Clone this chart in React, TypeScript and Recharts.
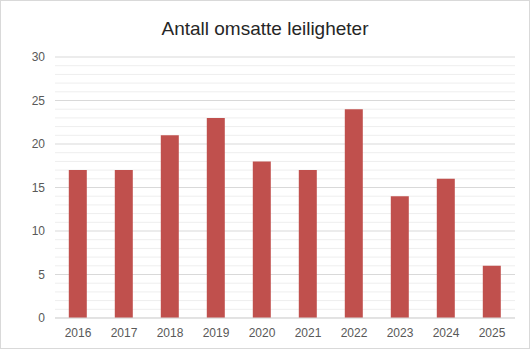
import { BarChart, Bar, XAxis, YAxis, CartesianGrid, ReferenceLine } from 'recharts';

const years = ['2016', '2017', '2018', '2019', '2020', '2021', '2022', '2023', '2024', '2025'];
const sales = [17, 17, 21, 23, 18, 17, 24, 14, 16, 6];
const yTicks = [0, 5, 10, 15, 20, 25, 30];
const minorLines = [1, 2, 3, 4, 6, 7, 8, 9, 11, 12, 13, 14, 16, 17, 18, 19, 21, 22, 23, 24, 26, 27, 28, 29];

const data = years.map((year, i) => ({ year, value: sales[i] }));

const tickStyle = { fill: '#595959', fontSize: 12, fontFamily: 'Liberation Sans, Arial, sans-serif' };

export default function App() {
  return (
    <div
      style={{
        position: 'absolute',
        left: 0,
        top: 0,
        width: 528,
        height: 347,
        border: '1px solid #d9d9d9',
        background: '#fff',
      }}
    >
      <div
        style={{
          position: 'absolute',
          top: 17,
          width: '100%',
          textAlign: 'center',
          fontFamily: 'Liberation Sans, Arial, sans-serif',
          fontSize: 19,
          color: '#262626',
        }}
      >
        Antall omsatte leiligheter
      </div>
      <BarChart
        width={528}
        height={347}
        data={data}
        margin={{ top: 56, right: 14, bottom: 0, left: 0 }}
        barCategoryGap="30%"
      >
        <CartesianGrid vertical={false} stroke="#d9d9d9" />
        {minorLines.map((v) => (
          <ReferenceLine key={v} y={v} stroke="#eeeeee" strokeWidth={1} zIndex={-50} />
        ))}
        <XAxis
          dataKey="year"
          height={30}
          tick={tickStyle}
          axisLine={{ stroke: '#d9d9d9' }}
          tickLine={false}
          tickSize={0}
          tickMargin={10}
        />
        <YAxis
          width={54}
          domain={[0, 30]}
          ticks={yTicks}
          tick={tickStyle}
          axisLine={false}
          tickLine={false}
          tickSize={0}
          tickMargin={10}
        />
        <Bar dataKey="value" fill="#c0504d" isAnimationActive={false} />
      </BarChart>
    </div>
  );
}
